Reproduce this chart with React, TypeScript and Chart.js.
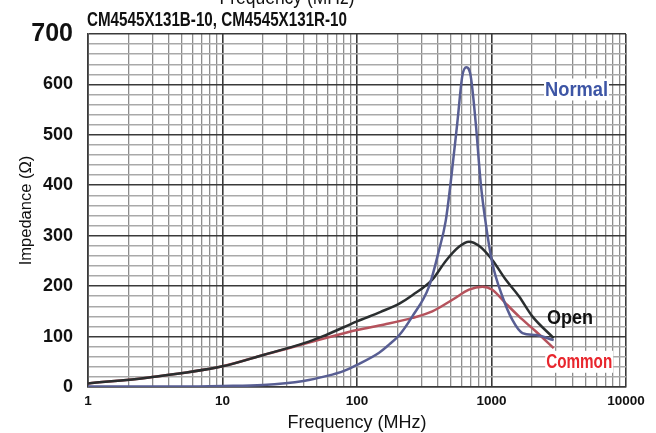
import React, { useEffect, useRef } from 'react';
import { Chart, registerables } from 'chart.js';

Chart.register(...registerables);

const titleText = 'CM4545X131B-10, CM4545X131R-10';
const topClippedText = 'Frequency (MHz)';
const xAxisTitle = 'Frequency (MHz)';
const yAxisTitle = 'Impedance (Ω)';

const xDecades = [1, 10, 100, 1000];
const xSubSteps = [1, 2, 3, 4, 5, 6, 7, 8, 9];
const xMax = 10000;
const xTickLabels = ['1', '10', '100', '1000', '10000'];
const yTickLabels = ['0', '100', '200', '300', '400', '500', '600', '700'];
const yMax = 700;
const yGridStep = 20;

const seriesNames = ['Normal', 'Open', 'Common'];

const normalFreq = [1, 5, 10, 20, 40, 60, 80, 100, 146, 173, 205, 258, 343, 406, 457, 497, 557, 607, 650, 700, 763, 831, 900, 1014, 1203, 1430, 1700, 2140, 2900];
const normalZ = [1, 1, 2, 4, 12, 22, 32, 44, 68, 84, 102, 140, 199, 270, 330, 405, 524, 617, 634, 617, 524, 405, 330, 246, 180, 133, 107, 103, 93];

const openFreq = [1, 2.84, 10, 20.4, 40.4, 58.5, 100, 150, 208, 258, 363, 457, 573, 680, 807, 1014, 1274, 1600, 2012, 2900];
const openZ = [7, 19, 41, 64, 87, 103, 130, 149, 166, 182, 213, 250, 278, 288, 280, 252, 213, 180, 140, 97];

const commonFreq = [1, 2.84, 10, 20.4, 31, 58.5, 100, 160, 258, 363, 512, 680, 856, 1014, 1274, 1600, 2140, 2900];
const commonZ = [7, 19, 41, 64, 77, 97, 113, 124, 137, 150, 173, 193, 199, 193, 166, 140, 110, 77];

const WIDE = '"Liberation Sans", Arial, sans-serif';

function drawScaledText(
  ctx: CanvasRenderingContext2D,
  text: string,
  x: number,
  y: number,
  targetWidth: number,
  align: 'left' | 'center'
) {
  const w = ctx.measureText(text).width;
  const sx = targetWidth / w;
  ctx.save();
  ctx.translate(x, y);
  ctx.scale(sx, 1);
  ctx.textAlign = align;
  ctx.fillText(text, 0, 0);
  ctx.restore();
}

const labelPlugin = {
  id: 'customLabels',
  afterDraw(chart: any) {
    const ctx = chart.ctx as CanvasRenderingContext2D;
    const xs = chart.scales.x;
    const ys = chart.scales.y;
    ctx.save();
    ctx.textBaseline = 'alphabetic';
    ctx.fillStyle = '#111';
    ctx.font = `bold 19.5px ${WIDE}`;
    drawScaledText(ctx, titleText, 87, 26, 260, 'left');
    ctx.font = `21px ${WIDE}`;
    drawScaledText(ctx, topClippedText, 287, 4, 135, 'center');

    const items = [
      { text: seriesNames[0], f: 2500, v: 590, color: '#3d55a5', size: 20, w: 63, bg: true },
      { text: seriesNames[1], f: 2590, v: 137, color: '#111111', size: 20, w: 46, bg: false },
      { text: seriesNames[2], f: 2550, v: 50, color: '#e8262d', size: 20, w: 66, bg: true },
    ];
    ctx.textBaseline = 'middle';
    for (const it of items) {
      const px = xs.getPixelForValue(it.f);
      const py = ys.getPixelForValue(it.v);
      ctx.font = `bold ${it.size}px ${WIDE}`;
      if (it.bg) {
        ctx.fillStyle = '#ffffff';
        ctx.fillRect(px - 1, py - it.size * 0.55, it.w + 2, it.size * 1.1);
      }
      ctx.fillStyle = it.color;
      drawScaledText(ctx, it.text, px, py + 1, it.w, 'left');
    }
    ctx.restore();
  },
};

function toPoints(fs: number[], zs: number[]) {
  return fs.map((f, i) => ({ x: f, y: zs[i] }));
}

export default function App() {
  const ref = useRef<HTMLCanvasElement | null>(null);

  useEffect(() => {
    if (!ref.current) return;
    const xGridValues: number[] = [];
    for (const d of xDecades) for (const s of xSubSteps) xGridValues.push(d * s);
    xGridValues.push(xMax);
    const yGridValues: number[] = [];
    for (let v = 0; v <= yMax; v += yGridStep) yGridValues.push(v);

    const isXMajor = (v: number) => xTickLabels.includes(String(v));
    const isYMajor = (v: number) => yTickLabels.includes(String(v));

    const chart = new Chart(ref.current, {
      type: 'line',
      data: {
        datasets: [
          {
            label: seriesNames[0],
            data: toPoints(normalFreq, normalZ),
            borderColor: '#585e93',
            borderWidth: 2.5,
            pointRadius: 0,
            cubicInterpolationMode: 'monotone',
          },
          {
            label: seriesNames[1],
            data: toPoints(openFreq, openZ),
            borderColor: '#2a2e2f',
            borderWidth: 2.5,
            pointRadius: 0,
            cubicInterpolationMode: 'monotone',
          },
          {
            label: seriesNames[2],
            data: toPoints(commonFreq, commonZ),
            borderColor: '#b5525c',
            borderWidth: 2.5,
            pointRadius: 0,
            cubicInterpolationMode: 'monotone',
          },
        ],
      },
      options: {
        animation: false,
        responsive: false,
        layout: { padding: { top: 34, right: 30, left: 0, bottom: 0 } },
        plugins: {
          legend: { display: false },
          tooltip: { enabled: false },
          title: { display: false },
        },
        scales: {
          x: {
            type: 'logarithmic',
            min: 1,
            max: xMax,
            afterBuildTicks: (s: any) => {
              s.ticks = xGridValues.map((v) => ({ value: v }));
            },
            afterFit: (s: any) => {
              s.height = 46;
            },
            ticks: {
              autoSkip: false,
              maxRotation: 0,
              minRotation: 0,
              padding: 6,
              color: '#111',
              font: { family: WIDE, size: 13.5, weight: 'bold' },
              callback: (v: any) => (isXMajor(Number(v)) ? String(v) : ''),
            },
            grid: {
              drawTicks: false,
              color: (c: any) => (isXMajor(c.tick?.value) ? '#3a3a3a' : '#8c8c8c'),
              lineWidth: (c: any) => (isXMajor(c.tick?.value) ? 1.6 : 1.3),
            },
            border: { color: '#3a3a3a', width: 1.6 },
            title: {
              display: true,
              text: xAxisTitle,
              color: '#111',
              font: { family: WIDE, size: 18, lineHeight: 1.1 },
              padding: { top: 0, bottom: 0 },
            },
          },
          y: {
            type: 'linear',
            min: 0,
            max: yMax,
            afterBuildTicks: (s: any) => {
              s.ticks = yGridValues.map((v) => ({ value: v }));
            },
            afterFit: (s: any) => {
              s.width = 88;
            },
            ticks: {
              autoSkip: false,
              padding: 15,
              color: '#111',
              font: (c: any) =>
                c.tick && c.tick.value === yMax
                  ? { family: WIDE, size: 25, weight: 'bold' }
                  : { family: WIDE, size: 18, weight: 'bold' },
              callback: (v: any) => (isYMajor(Number(v)) ? String(v) : ''),
            },
            grid: {
              drawTicks: false,
              color: (c: any) => (isYMajor(c.tick?.value) ? '#3a3a3a' : '#a9a9a9'),
              lineWidth: (c: any) => (isYMajor(c.tick?.value) ? 1.6 : 1.5),
            },
            border: { color: '#3a3a3a', width: 1.6 },
            title: {
              display: true,
              text: yAxisTitle,
              color: '#111',
              font: { family: WIDE, size: 16.5 },
              padding: { top: 17, bottom: 0 },
            },
          },
        },
      } as any,
      plugins: [labelPlugin],
    });
    return () => chart.destroy();
  }, []);

  return (
    <div style={{ position: 'absolute', left: 0, top: 0, width: 656, height: 433, background: '#fff' }}>
      <canvas ref={ref} width={656} height={433} style={{ width: 656, height: 433, display: 'block' }} />
    </div>
  );
}
